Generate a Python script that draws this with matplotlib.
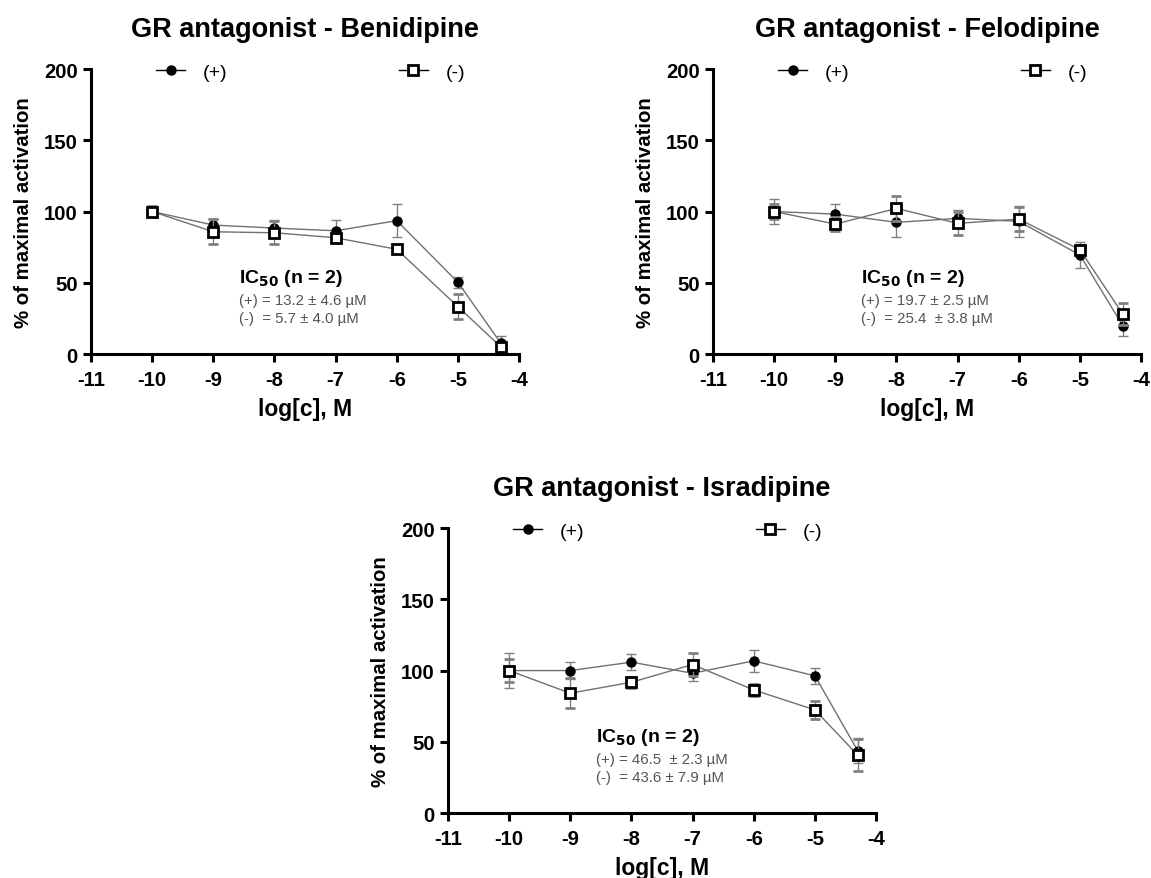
import matplotlib
matplotlib.use('Agg')
import matplotlib.pyplot as plt
from matplotlib.lines import Line2D

plt.rcParams['font.family'] = ['Liberation Sans', 'DejaVu Sans']
plt.rcParams['axes.unicode_minus'] = False

log_c = [-10, -9, -8, -7, -6, -5, -4.3]

# Benidipine
ben_plus = [100, 90.5, 88.4, 86.5, 93.6, 50.3, 7.7]
ben_plus_err = [4, 4, 5.6, 7.6, 11.7, 4, 5]
ben_minus = [100, 85.8, 85.1, 81.6, 73.5, 33.2, 5.1]
ben_minus_err = [4, 8.7, 8, 3, 2, 8.8, 2]

# Felodipine
fel_plus = [100, 98.2, 92.4, 95.2, 93.1, 69.5, 19.9]
fel_plus_err = [9, 7, 10.5, 6, 11, 9, 7]
fel_minus = [100, 91.2, 102.2, 91.7, 94.7, 73.2, 28.1]
fel_minus_err = [5, 5, 8.5, 8, 8.7, 3, 8]

# Isradipine
isr_plus = [100, 100, 105.9, 98.1, 106.8, 96.3, 43.8]
isr_plus_err = [12.4, 6, 5.5, 5.6, 7.7, 5.5, 9]
isr_minus = [100, 84.1, 91.8, 104.2, 86.4, 72.4, 40.7]
isr_minus_err = [8, 10.5, 4, 8, 4, 6.5, 11]

panels = [
    ('GR antagonist - Benidipine', ben_plus, ben_plus_err, ben_minus, ben_minus_err,
     ['(+) = 13.2 \u00b1 4.6 \u00b5M', '(-)  = 5.7 \u00b1 4.0 \u00b5M']),
    ('GR antagonist - Felodipine', fel_plus, fel_plus_err, fel_minus, fel_minus_err,
     ['(+) = 19.7 \u00b1 2.5 \u00b5M', '(-)  = 25.4  \u00b1 3.8 \u00b5M']),
    ('GR antagonist - Isradipine', isr_plus, isr_plus_err, isr_minus, isr_minus_err,
     ['(+) = 46.5  \u00b1 2.3 \u00b5M', '(-)  = 43.6 \u00b1 7.9 \u00b5M']),
]

# axes rectangles (figure fractions)
rects = [
    [0.0791, 0.5961, 0.3719, 0.3242],
    [0.6195, 0.5961, 0.3719, 0.3242],
    [0.3892, 0.0739, 0.3719, 0.3242],
]

fig = plt.figure(figsize=(11.51, 8.79), dpi=100)
fig.patch.set_facecolor('white')

line_col = '#707070'
err_col = '#808080'

for (title, yp, ep, ym, em, ic_lines), rect in zip(panels, rects):
    ax = fig.add_axes(rect)
    ax.errorbar(log_c, yp, yerr=ep, color=line_col, lw=1, ecolor=err_col,
                elinewidth=1, capsize=3.5, capthick=1, marker='o', ms=6.5,
                mfc='black', mec='black', zorder=3, clip_on=False)
    ax.errorbar(log_c, ym, yerr=em, color=line_col, lw=1, ecolor=err_col,
                elinewidth=1, capsize=3.5, capthick=1, marker='s', ms=6.5,
                mfc='white', mec='black', mew=2, zorder=4, clip_on=False)

    ax.set_xlim(-11, -4)
    ax.set_ylim(0, 200)
    ax.set_xticks(range(-11, -3))
    ax.set_yticks([0, 50, 100, 150, 200])
    for s in ['top', 'right']:
        ax.spines[s].set_visible(False)
    for s in ['left', 'bottom']:
        ax.spines[s].set_linewidth(2.2)
    ax.tick_params(direction='out', length=5.5, width=2.2, labelsize=14.6)
    ax.tick_params(axis='x', pad=6)
    ax.tick_params(axis='y', pad=4)
    for lbl in ax.get_xticklabels() + ax.get_yticklabels():
        lbl.set_fontweight('bold')

    ax.set_title(title, fontsize=19.5, fontweight='bold', pad=24)
    ax.set_xlabel('log[c], M', fontsize=16.5, fontweight='bold', labelpad=6)
    ax.set_ylabel('% of maximal activation', fontsize=14.7, fontweight='bold', labelpad=8)

    handles = [
        Line2D([], [], color='black', lw=1, marker='o', ms=6.5, mfc='black', mec='black'),
        Line2D([], [], color='black', lw=1, marker='s', ms=6.5, mfc='white', mec='black', mew=2),
    ]
    ax.legend(handles, ['(+)', '(-)'], loc='center', bbox_to_anchor=(0.513, 0.99),
              ncol=2, frameon=False, fontsize=14, handlelength=1.5,
              columnspacing=8.8, handletextpad=0.9)

    ax.text(0.346, 0.270, r'IC$_{\mathbf{50}}$ (n = 2)', transform=ax.transAxes,
            fontsize=14, fontweight='bold', va='center', ha='left')
    ax.text(0.346, 0.189, ic_lines[0], transform=ax.transAxes, fontsize=10.8,
            color='#555555', va='center', ha='left')
    ax.text(0.346, 0.126, ic_lines[1], transform=ax.transAxes, fontsize=10.8,
            color='#555555', va='center', ha='left')

fig.savefig('out.png', dpi=100, facecolor='white')
